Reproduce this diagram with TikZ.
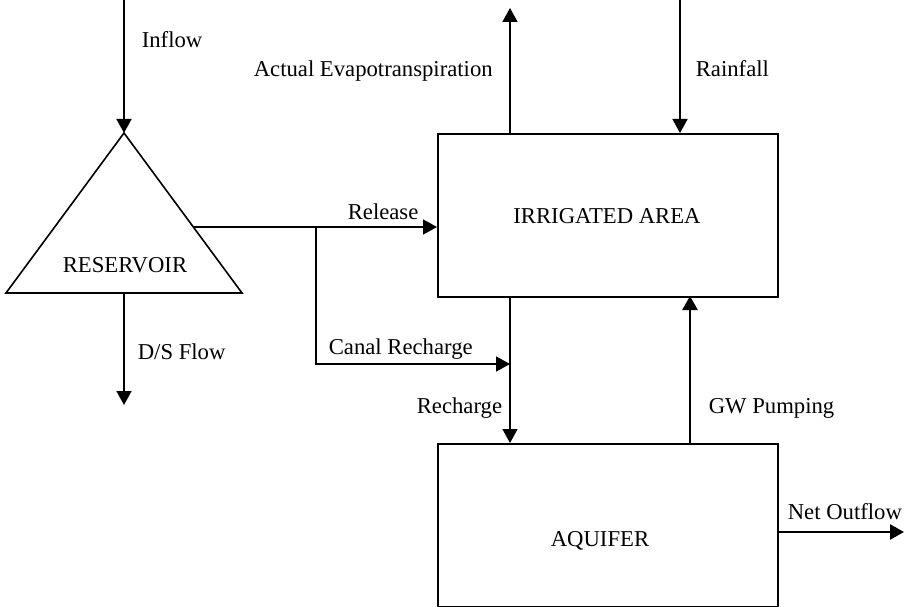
\documentclass[tikz,border=0pt]{standalone}
\usepackage{fontspec}
\setmainfont{Liberation Serif}
\usetikzlibrary{arrows.meta,positioning}

\tikzset{
  flowbox/.style={draw,line width=1.6pt,anchor=north west,minimum width=340pt,minimum height=163pt,inner sep=0pt},
  flowlbl/.style={anchor=west,inner sep=0pt},
  thickflow/.style={line width=2.6pt}
}

\begin{document}
\begin{tikzpicture}[x=1pt,y=-1pt,line cap=butt,line join=miter,>={Triangle[width=15pt,length=14pt]},font=\fontsize{22.7}{27}\selectfont,line width=1.6pt]
    \useasboundingbox (0,0) rectangle (904,607);
    % reservoir
    \coordinate (apex) at (124,133);
    \coordinate (bl) at (6,293);
    \coordinate (br) at (242,293);
    \draw (apex) -- (br) -- (bl) -- cycle;
    \node (res) at (125,265) {RESERVOIR};
    % boxes
    \node[flowbox] (irr) at (437,133) {};
    \node (irrtxt) at (607,216) {IRRIGATED AREA};
    \node[flowbox] (aq) at (437,443) {};
    \node (aqtxt) at (600,541) {AQUIFER};
    % points on the flows
    \coordinate (intop) at (124,0);
    \coordinate (dstop) at (124,293);
    \coordinate (dsend) at (124,405);
    \coordinate (rel) at (193,227);
    \coordinate (split) at (316,227);
    \coordinate (canal) at (316,364);
    \coordinate (canalend) at (510,364);
    \coordinate (etbase) at (510,133);
    \coordinate (ettop) at (510,8);
    \coordinate (raintop) at (680,0);
    \coordinate (rainend) at (680,133);
    \coordinate (rchtop) at (510,296);
    \coordinate (rchend) at (510,443);
    \coordinate (gwbase) at (690,443);
    \coordinate (gwend) at (690,296);
    \coordinate (outbase) at (777,532);
    \coordinate (outend) at (904,532);
    % flows
    \draw[->] (intop) -- (apex);
    \draw[->] (dstop) -- (dsend);
    \draw[->] (rel) -- (irr.west |- rel);
    \draw[->] (split) -- (canal) -- (canalend);
    \draw[->] (etbase) -- (ettop);
    \draw[->] (raintop) -- (rainend);
    \draw[->] (rchtop) -- (rchend);
    \draw[->,thickflow] (gwbase) -- (gwend);
    \draw[->,thickflow] (outbase) -- (outend);
    % labels
    \node[flowlbl] (inlbl) at (141,40) {Inflow};
    \node[flowlbl] (dslbl) at (137,352) {D/S Flow};
    \node[flowlbl] (rellbl) at (347,212) {Release};
    \node[flowlbl] (canallbl) at (328,349) {Canal Recharge};
    \node[flowlbl] (etlbl) at (253,71) {Actual Evapotranspiration};
    \node[flowlbl] (rainlbl) at (695,69) {Rainfall};
    \node[flowlbl] (rchlbl) at (416,408) {Recharge};
    \node[flowlbl] (gwlbl) at (708,408) {GW Pumping};
    \node[flowlbl] (outlbl) at (787,512) {Net Outflow};
\end{tikzpicture}
\end{document}
